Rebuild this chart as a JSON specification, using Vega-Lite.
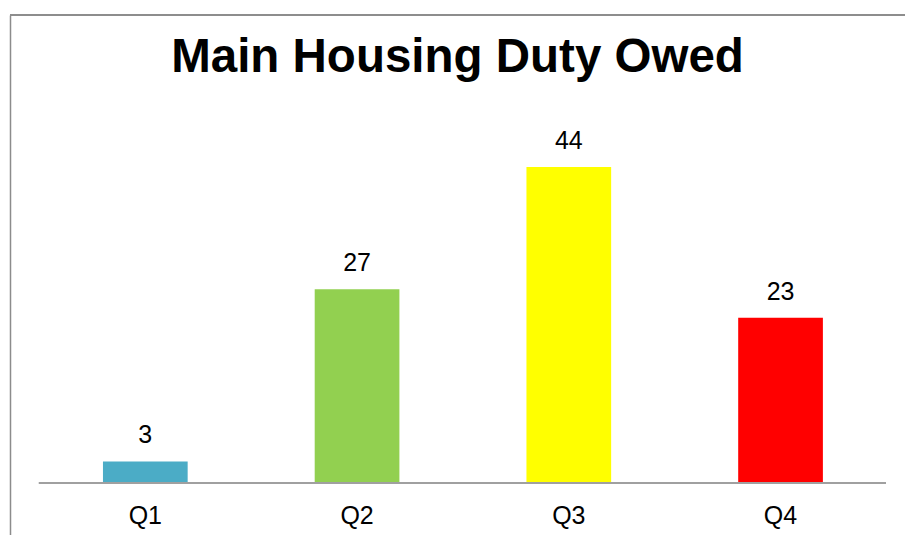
{
  "$schema": "https://vega.github.io/schema/vega-lite/v6.json",
  "autosize": "none",
  "width": 895,
  "height": 520,
  "padding": {"left": 10, "top": 15, "right": 0, "bottom": 0},
  "background": "white",
  "title": {
    "text": "Main Housing Duty Owed",
    "font": "Liberation Sans",
    "fontSize": 47.5,
    "fontWeight": "bold",
    "color": "#000000",
    "anchor": "middle",
    "baseline": "alphabetic",
    "offset": -60,
    "dy": 45
  },
  "config": {"view": {"stroke": null}},
  "data": {
    "values": [
      {"quarter": "Q1", "value": 3},
      {"quarter": "Q2", "value": 27},
      {"quarter": "Q3", "value": 44},
      {"quarter": "Q4", "value": 23}
    ]
  },
  "encoding": {
    "x": {
      "field": "quarter",
      "type": "nominal",
      "sort": null,
      "scale": {"paddingInner": 0.6, "paddingOuter": 0.4134, "align": 0.531},
      "axis": {
        "orient": "bottom",
        "offset": -52,
        "title": null,
        "labelAngle": 0,
        "ticks": false,
        "domain": false,
        "labelFont": "Liberation Sans",
        "labelFontSize": 25,
        "labelColor": "#000000",
        "labelPadding": 20,
        "grid": false
      }
    },
    "y": {
      "field": "value",
      "type": "quantitative",
      "scale": {"domain": [-7.24, 65.18], "nice": false, "zero": false},
      "axis": {
        "title": null,
        "labels": false,
        "ticks": false,
        "grid": false,
        "domain": true,
        "domainColor": "#8c8c8c",
        "domainWidth": 1.5
      }
    }
  },
  "layer": [
    {
      "mark": {"type": "rule", "color": "#8c8c8c", "strokeWidth": 1.5},
      "encoding": {"y": {"datum": 65.18, "type": "quantitative"}, "x": null}
    },
    {
      "mark": {"type": "bar"},
      "encoding": {
        "y2": {"datum": 0},
        "color": {
          "field": "quarter",
          "type": "nominal",
          "scale": {"domain": ["Q1", "Q2", "Q3", "Q4"], "range": ["#4BACC6", "#92D050", "#FFFF00", "#FF0000"]},
          "legend": null
        }
      }
    },
    {
      "mark": {"type": "rule", "color": "#a0a0a0", "strokeWidth": 2},
      "encoding": {
        "x": {"datum": "Q1", "type": "nominal", "bandPosition": -0.756},
        "x2": {"datum": "Q4", "bandPosition": 1.744},
        "y": {"datum": 0, "type": "quantitative"}
      }
    },
    {
      "mark": {"type": "text", "dy": -18, "baseline": "alphabetic", "font": "Liberation Sans", "fontSize": 25, "color": "#000000"},
      "encoding": {"text": {"field": "value", "type": "quantitative"}}
    }
  ]
}
